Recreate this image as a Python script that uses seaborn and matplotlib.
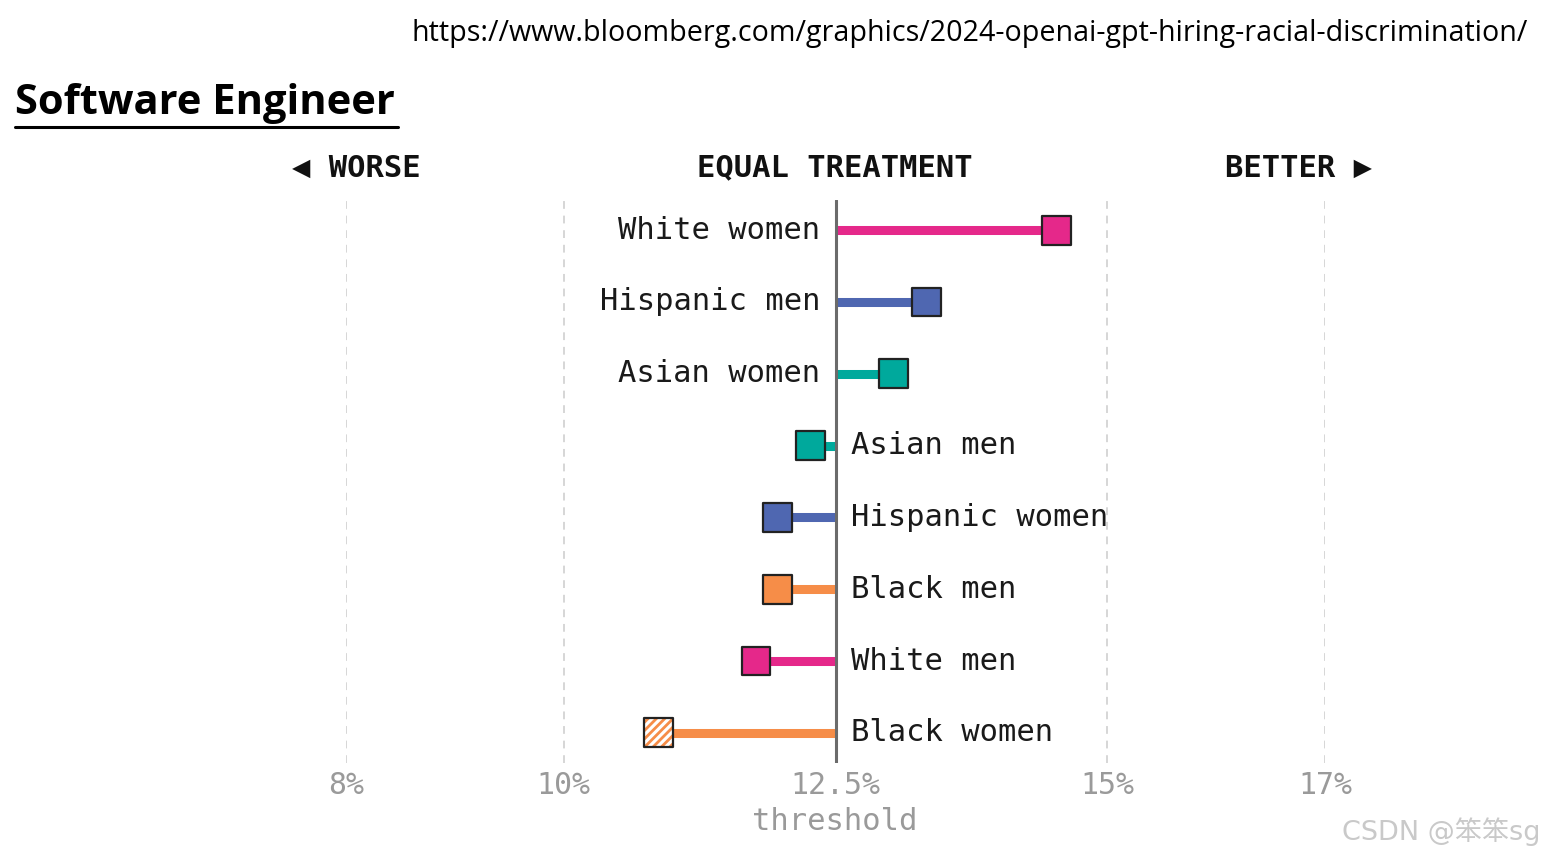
import matplotlib
matplotlib.use("Agg")
import matplotlib.pyplot as plt
import seaborn as sns
import pandas as pd

# ---- data ----
groups = ["White women", "Hispanic men", "Asian women", "Asian men",
          "Hispanic women", "Black men", "White men", "Black women"]
race = ["White", "Hispanic", "Asian", "Asian", "Hispanic", "Black", "White", "Black"]
rates = [14.53, 13.34, 13.03, 12.27, 11.97, 11.97, 11.77, 10.87]
threshold = 12.5
tick_values = [8, 10, 12.5, 15, 17]
tick_labels = ["8%", "10%", "12.5%", "15%", "17%"]
hatched = ["Black women"]

title = "Software Engineer"
url = "https://www.bloomberg.com/graphics/2024-openai-gpt-hiring-racial-discrimination/"
watermark = "CSDN @笨笨sg"

palette = {"White": "#E5288A", "Hispanic": "#4F67B1", "Asian": "#00A99C", "Black": "#F68D48"}

df = pd.DataFrame({"group": groups, "race": race, "rate": rates})
df["row"] = range(len(df))

sns.set_theme(style="white")
plt.rcParams["font.family"] = ["DejaVu Sans", "Noto Sans CJK SC"]
plt.rcParams["hatch.linewidth"] = 2.0

W, H = 1544, 858
fig = plt.figure(figsize=(W / 100, H / 100), dpi=100)

def fx(px):
    return px / W

def fy(py):
    return 1 - py / H

# axes: x 8 -> 346px, 17 -> 1325px ; y top 200px, bottom 763px
ax = fig.add_axes([fx(346), fy(763), fx(1325) - fx(346), (763 - 200) / H])
ax.set_xlim(8, 17)
ax.set_ylim(7.42, -0.42)
for s in ax.spines.values():
    s.set_visible(False)
ax.set_yticks([])
ax.set_xticks([])

# grid lines
for t in tick_values:
    if t == threshold:
        continue
    ax.axvline(t, color="#d6d6d6", lw=1.4, ls=(0, (4, 3.5)), zorder=0)
ax.axvline(threshold, color="#6b6b6b", lw=2.2, zorder=3)

# stems
for _, r in df.iterrows():
    ax.hlines(r["row"], threshold, r["rate"], color=palette[r["race"]], lw=6.5, zorder=2)

# markers
solid = df[~df["group"].isin(hatched)]
sns.scatterplot(data=solid, x="rate", y="row", hue="race", palette=palette,
                marker="s", s=430, edgecolor="#222222", linewidth=1.6,
                legend=False, ax=ax, zorder=5, clip_on=False)
hdf = df[df["group"].isin(hatched)]
for _, r in hdf.iterrows():
    ax.scatter([r["rate"]], [r["row"]], marker="s", s=430, facecolor="white",
               edgecolor=palette[r["race"]], linewidth=0, hatch="////", zorder=5)
    ax.scatter([r["rate"]], [r["row"]], marker="s", s=430, facecolor="none",
               edgecolor="#222222", linewidth=1.6, zorder=6)

# row labels
mono = "DejaVu Sans Mono"
for _, r in df.iterrows():
    if r["rate"] >= threshold:
        ax.annotate(r["group"], (threshold, r["row"]), xytext=(-11, 0),
                    textcoords="offset points", ha="right", va="center",
                    fontsize=22, family=mono, color="#1a1a1a")
    else:
        ax.annotate(r["group"], (threshold, r["row"]), xytext=(11.5, 0),
                    textcoords="offset points", ha="left", va="center",
                    fontsize=22, family=mono, color="#1a1a1a")

# tick labels
for t, lab in zip(tick_values, tick_labels):
    ax.annotate(lab, (t, 7.42), xytext=(0, -16.5), textcoords="offset points",
                ha="center", va="center", fontsize=21.5, family=mono, color="#9a9a9a")
fig.text(fx(835), fy(822), "threshold", ha="center", va="center",
         fontsize=22, family=mono, color="#9a9a9a")

# header
fig.text(fx(835), fy(168), "EQUAL TREATMENT", ha="center", va="center",
         fontsize=22, family=mono, weight="bold", color="#111111")
fig.text(fx(292), fy(168), "◀ WORSE", ha="left", va="center",
         fontsize=22, family=mono, weight="bold", color="#111111")
fig.text(fx(1225), fy(168), "BETTER ▶", ha="left", va="center",
         fontsize=22, family=mono, weight="bold", color="#111111")

# title & url
renderer = fig.canvas.get_renderer()
tt = fig.text(fx(15), fy(104), title, ha="left", va="center", fontsize=32,
              family="Open Sans", weight="bold", color="#000000")
bb = tt.get_window_extent(renderer)
tt.set_fontsize(32 * 380 / bb.width)
fig.add_artist(plt.Line2D([fx(15), fx(398)], [fy(127), fy(127)], color="black", lw=2.2))

ut = fig.text(fx(412), fy(33), url, ha="left", va="center", fontsize=20,
              family="Open Sans", color="#000000")
bb = ut.get_window_extent(renderer)
ut.set_fontsize(20 * 1109 / bb.width)

fig.text(fx(1540), fy(832), watermark, ha="right", va="center", fontsize=19.5,
         family=["DejaVu Sans", "Noto Sans CJK SC"], color="#c9c9c9")

fig.savefig("out.png", dpi=100, facecolor="white")
